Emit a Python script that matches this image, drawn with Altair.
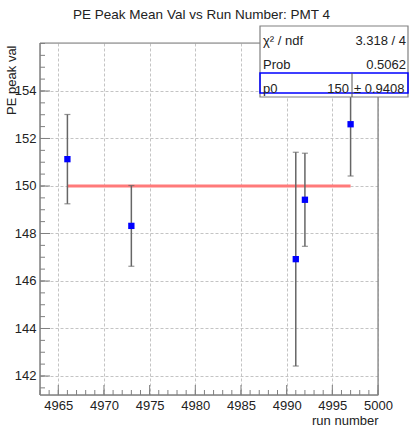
import altair as alt
import pandas as pd

# ---- data ----
runs = [4966, 4973, 4991, 4992, 4997]
means = [151.13, 148.32, 146.92, 149.42, 152.60]
errs = [1.88, 1.70, 4.50, 1.96, 2.18]
fit_range = [4966, 4997]
p0 = 150.0

x_major = [4965, 4970, 4975, 4980, 4985, 4990, 4995, 5000]
x_minor = list(range(4963, 5001))
y_major = [142, 144, 146, 148, 150, 152, 154]
y_minor = [141.5 + 0.5 * i for i in range(30)]

stat_labels = ["\u03c7\u00b2 / ndf", "Prob", "p0"]
stat_values = ["3.318 / 4", "0.5062", "150"]
p0_err = "\u00b1 0.9408"

title_text = "PE Peak Mean Val vs Run Number: PMT 4"
x_title = "run number"
y_title = "PE peak val"

W, H = 338, 352
FONT = "Liberation Sans"
TXT = "#222222"
AX = "#808080"

xs = alt.Scale(domain=[4963, 5000], nice=False, zero=False)
ys = alt.Scale(domain=[141.2, 156.02], nice=False, zero=False)

pts = pd.DataFrame({"run": runs, "mean": means, "err": errs})
pts["lo"] = pts["mean"] - pts["err"]
pts["hi"] = pts["mean"] + pts["err"]
caps = pd.DataFrame({"run": runs * 2, "mean": list(pts["lo"]) + list(pts["hi"])})
fit = pd.DataFrame({"run": [fit_range[0]], "x2": [fit_range[1]], "mean": [p0]})
one = pd.DataFrame({"d": [0]})

x_axis = alt.Axis(values=x_major, format="d", title=x_title, grid=True, ticks=False,
                  domain=False, labelPadding=4, labelFontSize=13, labelFont=FONT,
                  labelColor=TXT, labelFlush=False, labelOverlap=False,
                  gridDash=[3, 2], gridColor="#c4c4c4",
                  titleAnchor="end", titleAlign="right", titleX=W, titleY=29,
                  titleBaseline="alphabetic", titleFontSize=13, titleFont=FONT,
                  titleFontWeight="normal", titleColor=TXT)
y_axis = alt.Axis(values=y_major, format="d", title=y_title, grid=True, ticks=False,
                  domain=False, labelPadding=4, labelFontSize=13, labelFont=FONT,
                  labelColor=TXT, labelFlush=False, labelOverlap=False,
                  gridDash=[3, 2], gridColor="#c4c4c4",
                  titleAngle=270, titleAlign="right", titleBaseline="alphabetic",
                  titleX=-25, titleY=2, titleFontSize=13, titleFont=FONT,
                  titleFontWeight="normal", titleColor=TXT)

X = lambda f: alt.X(f, scale=xs, axis=x_axis)
Y = lambda f: alt.Y(f, scale=ys, axis=y_axis)

# frame
frame_top = alt.Chart(one).mark_rule(color=AX, strokeWidth=1.2).encode(
    x=alt.value(0), x2=alt.value(W), y=alt.value(0))
frame_bot = alt.Chart(one).mark_rule(color=AX, strokeWidth=1.5).encode(
    x=alt.value(0), x2=alt.value(W), y=alt.value(H))
frame_left = alt.Chart(one).mark_rule(color=AX, strokeWidth=1.5).encode(
    x=alt.value(0), y=alt.value(0), y2=alt.value(H))
frame_right = alt.Chart(one).mark_rule(color=AX, strokeWidth=1.2).encode(
    x=alt.value(W), y=alt.value(0), y2=alt.value(H))

# inward ticks
xmin_t = alt.Chart(pd.DataFrame({"run": x_minor})).mark_rule(color=AX, strokeWidth=1).encode(
    x=X("run:Q"), y=alt.value(H), y2=alt.value(H - 5))
xmaj_t = alt.Chart(pd.DataFrame({"run": x_major})).mark_rule(color=AX, strokeWidth=1).encode(
    x=X("run:Q"), y=alt.value(H), y2=alt.value(H - 10))
ymin_t = alt.Chart(pd.DataFrame({"mean": y_minor})).mark_rule(color=AX, strokeWidth=1).encode(
    y=Y("mean:Q"), x=alt.value(0), x2=alt.value(5))
ymaj_t = alt.Chart(pd.DataFrame({"mean": y_major})).mark_rule(color=AX, strokeWidth=1).encode(
    y=Y("mean:Q"), x=alt.value(0), x2=alt.value(10))

fit_line = alt.Chart(fit).mark_rule(color="#ff7a7a", strokeWidth=3).encode(
    x=X("run:Q"), x2="x2:Q", y=Y("mean:Q"))

ebars = alt.Chart(pts).mark_rule(color="#666666", strokeWidth=1.5).encode(
    x=X("run:Q"), y=Y("lo:Q"), y2="hi:Q")
ecaps = alt.Chart(caps).mark_tick(orient="horizontal", size=6, thickness=1.2,
                                   color="#666666").encode(
    x=X("run:Q"), y=Y("mean:Q"))

points = alt.Chart(pts).mark_square(size=40, color="#0000ff", opacity=1).encode(
    x=X("run:Q"), y=Y("mean:Q"))

# stats box
bx0, bx1, by0, by1 = 220, 368, -17, 54
box = alt.Chart(one).mark_rect(fill="white", stroke=AX, strokeWidth=1.2).encode(
    x=alt.value(bx0), x2=alt.value(bx1), y=alt.value(by0), y2=alt.value(by1))
bluebox = alt.Chart(one).mark_rect(fillOpacity=0, stroke="#0000ff", strokeWidth=1.5).encode(
    x=alt.value(bx0), x2=alt.value(bx1), y=alt.value(30), y2=alt.value(50))
divider = alt.Chart(one).mark_rule(color="#555555", strokeWidth=1).encode(
    x=alt.value(312), y=alt.value(30), y2=alt.value(54))

row_y = [2, 26, 50]
texts = []
for i, (lab, val) in enumerate(zip(stat_labels, stat_values)):
    texts.append(alt.Chart(one).mark_text(align="left", baseline="alphabetic", fontSize=13,
                                          font=FONT, color=TXT).encode(
        x=alt.value(bx0 + 3), y=alt.value(row_y[i]), text=alt.value(lab)))
    rx = 309 if i == 2 else bx1 - 2
    texts.append(alt.Chart(one).mark_text(align="right", baseline="alphabetic", fontSize=13,
                                          font=FONT, color=TXT).encode(
        x=alt.value(rx), y=alt.value(row_y[i]), text=alt.value(val)))
texts.append(alt.Chart(one).mark_text(align="left", baseline="alphabetic", fontSize=13,
                                      font=FONT, color=TXT).encode(
    x=alt.value(314), y=alt.value(row_y[2]), text=alt.value(p0_err)))

title_mark = alt.Chart(one).mark_text(align="center", baseline="alphabetic", fontSize=13.5,
                                      font=FONT, color=TXT).encode(
    x=alt.value(161.5), y=alt.value(-24), text=alt.value(title_text))

chart = alt.layer(
    frame_top, frame_bot, frame_left, frame_right,
    xmin_t, xmaj_t, ymin_t, ymaj_t,
    fit_line, ebars, ecaps, points,
    box, bluebox, divider, *texts, title_mark
).properties(
    width=W, height=H,
    autosize=alt.AutoSizeParams(type="none"),
    padding={"left": 40, "top": 43, "right": 32, "bottom": 33},
).configure_view(strokeWidth=0).configure(background="white")

chart.save("out.html", embed_options={"renderer": "svg", "actions": False})
